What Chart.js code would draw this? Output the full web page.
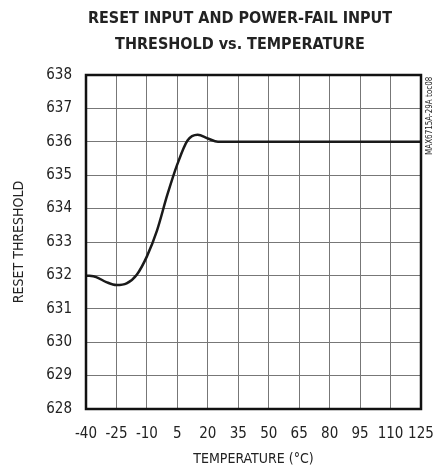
<!DOCTYPE html>
<html>
<head>
<meta charset="utf-8">
<script src="https://cdn.jsdelivr.net/npm/chart.js@4"></script>
<style>
  html, body { margin: 0; padding: 0; background: #fff; }
  #wrap { width: 434px; height: 472px; }
</style>
</head>
<body>
<div id="wrap"><canvas id="myChart" width="434" height="472"></canvas></div>
<script>
const temps = [-40, -35, -30, -25, -20, -15, -10, -5, 0, 5, 10, 15, 20, 25, 35, 50, 65, 80, 95, 110, 125];
const threshold = [632.0, 631.95, 631.8, 631.71, 631.76, 632.02, 632.57, 633.35, 634.4, 635.33, 636.04, 636.21, 636.1, 636.0, 636.0, 636.0, 636.0, 636.0, 636.0, 636.0, 636.0];
const xTicks = [-40, -25, -10, 5, 20, 35, 50, 65, 80, 95, 110, 125];
const yTicks = [628, 629, 630, 631, 632, 633, 634, 635, 636, 637, 638];
const titleLines = ['RESET INPUT AND POWER-FAIL INPUT', 'THRESHOLD vs. TEMPERATURE'];

const FONT = "'Liberation Sans Narrow', 'Arial Narrow', 'DejaVu Sans Condensed', sans-serif";

// title, frame and side note
const extras = {
    id: 'extras',
    beforeDraw(chart) {
        const ctx = chart.ctx;
        ctx.save();
        ctx.fillStyle = '#222';
        ctx.font = 'bold 16px ' + FONT;
        ctx.textAlign = 'center';
        ctx.textBaseline = 'middle';
        titleLines.forEach((line, i) => ctx.fillText(line, 240, 19 + i * 26));
        ctx.restore();
    },
    afterDatasetsDraw(chart) {
        const {ctx, chartArea: a} = chart;
        ctx.save();
        ctx.strokeStyle = '#111';
        ctx.lineWidth = 2.5;
        ctx.strokeRect(a.left, a.top, a.right - a.left, a.bottom - a.top);
        ctx.translate(430, a.top + 80);
        ctx.rotate(-Math.PI / 2);
        ctx.fillStyle = '#222';
        ctx.font = '8px ' + FONT;
        ctx.textBaseline = 'middle';
        ctx.fillText('MAX6715A-29A toc08', 0, 0);
        ctx.restore();
    }
};

const config = {
    type: 'line',
    data: {
        datasets: [{
            data: temps.map((t, i) => ({x: t, y: threshold[i]})),
            borderColor: '#1a1a1a',
            borderWidth: 2.5,
            pointRadius: 0,
            cubicInterpolationMode: 'monotone',
            fill: false
        }]
    },
    options: {
        responsive: false,
        animation: false,
        layout: { padding: { left: 0, right: 13, top: 75, bottom: 0 } },
        plugins: {
            legend: { display: false },
            tooltip: { enabled: false },
            title: { display: false }
        },
        scales: {
            x: {
                type: 'linear',
                min: -40,
                max: 125,
                afterBuildTicks: s => { s.ticks = xTicks.map(v => ({value: v})); },
                afterFit: s => { s.height = 63; s.paddingLeft = 0; s.paddingRight = 0; },
                grid: { color: '#777', lineWidth: 1, drawTicks: false },
                border: { display: false },
                ticks: { color: '#222', font: { family: FONT, size: 15 }, padding: 16, maxRotation: 0, autoSkip: false },
                title: { display: true, text: 'TEMPERATURE (°C)', color: '#222', font: { family: FONT, size: 14 }, padding: { top: 0, bottom: 4 } }
            },
            y: {
                min: 628,
                max: 638,
                afterBuildTicks: s => { s.ticks = yTicks.map(v => ({value: v})); },
                afterFit: s => { s.width = 86; s.paddingTop = 0; s.paddingBottom = 0; },
                grid: { color: '#777', lineWidth: 1, drawTicks: false },
                border: { display: false },
                ticks: { color: '#222', font: { family: FONT, size: 15 }, padding: 14, autoSkip: false },
                title: { display: true, text: 'RESET THRESHOLD', color: '#222', font: { family: FONT, size: 14 }, padding: { top: 11, bottom: 0 } }
            }
        }
    },
    plugins: [extras]
};

function buildChart() {
    const ctx = document.getElementById('myChart').getContext('2d');
    return new Chart(ctx, config);
}

window.addEventListener('load', () => {
    buildChart();
});
</script>
</body>
</html>
